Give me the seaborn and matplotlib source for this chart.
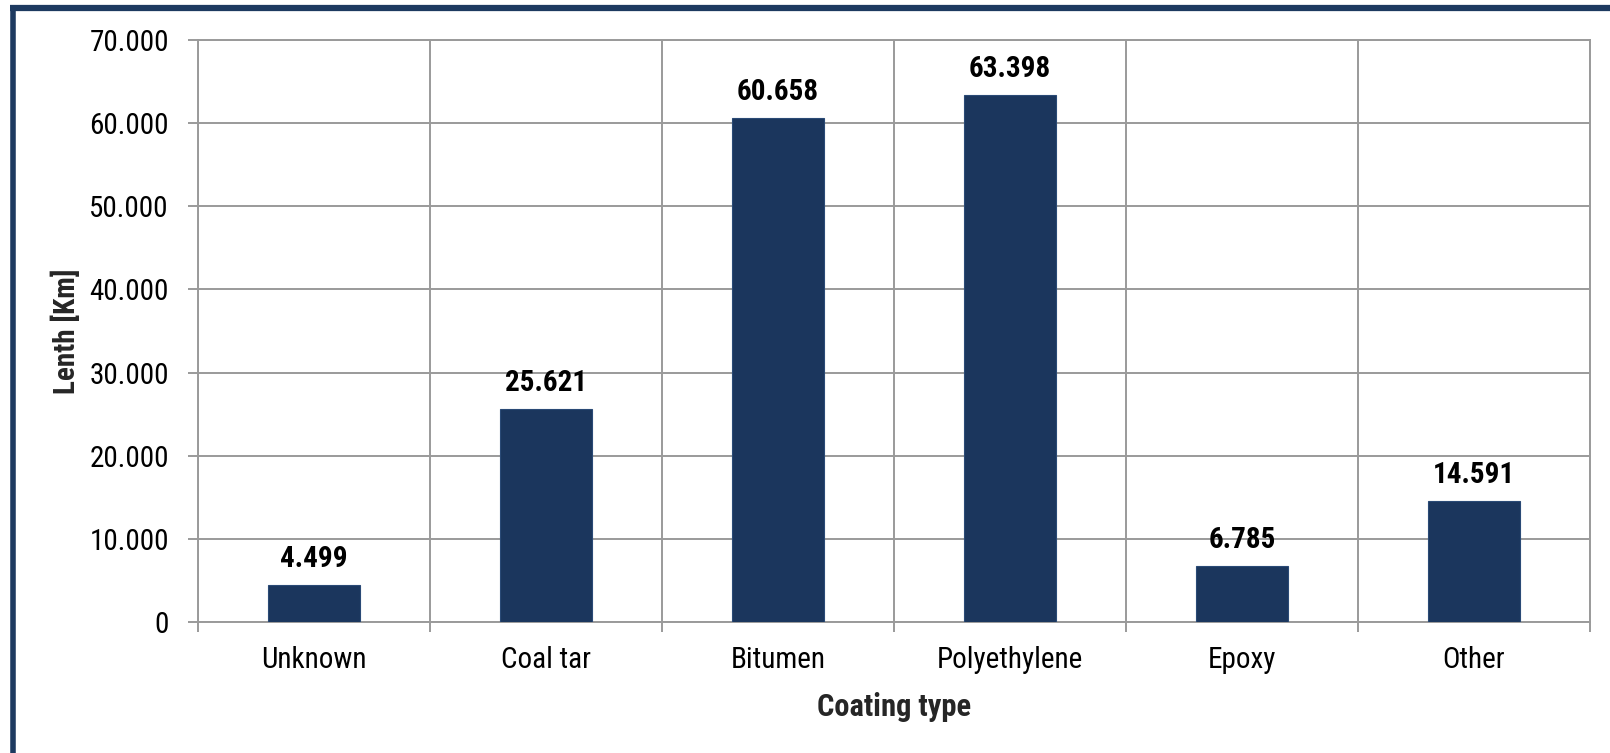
import matplotlib
matplotlib.use("Agg")
import matplotlib.pyplot as plt
from matplotlib.lines import Line2D
from matplotlib.ticker import FixedLocator, FuncFormatter
import seaborn as sns
import pandas as pd

# Pipeline length by coating type (km, dot as thousands separator)
coating_types = ["Unknown", "Coal tar", "Bitumen", "Polyethylene", "Epoxy", "Other"]
lengths = [4499, 25621, 60658, 63398, 6785, 14591]
y_ticks = [0, 10000, 20000, 30000, 40000, 50000, 60000, 70000]

BAR_COLOR = "#1b365d"
FRAME_COLOR = "#1d3a60"
GRID_COLOR = "#9a9a9a"
FS = 21


def dot_thousands(v, _pos=None):
    return f"{int(round(v)):,}".replace(",", ".")


sns.set_theme(style="white")
plt.rcParams["font.family"] = ["Roboto Condensed", "Liberation Sans", "DejaVu Sans"]

fig = plt.figure(figsize=(16.10, 7.53), dpi=100)
ax = fig.add_axes([198 / 1610, 1 - 622 / 753, (1590 - 198) / 1610, (622 - 40) / 753])

df = pd.DataFrame({"Coating type": coating_types, "Length": lengths})
sns.barplot(data=df, x="Coating type", y="Length", color=BAR_COLOR,
            width=0.4, saturation=1, ax=ax, zorder=3, edgecolor="#2a4a76", linewidth=0.8)

ax.set_xlim(-0.5, len(coating_types) - 0.5)
ax.set_ylim(0, 70000)
ax.yaxis.set_major_locator(FixedLocator(y_ticks))
ax.yaxis.set_major_formatter(FuncFormatter(dot_thousands))

# category separators as minor ticks / vertical grid
ax.xaxis.set_minor_locator(FixedLocator([i - 0.5 for i in range(len(coating_types) + 1)]))
ax.grid(False)
ax.grid(True, axis="y", which="major", color=GRID_COLOR, linewidth=1.4, zorder=0)
ax.grid(True, axis="x", which="minor", color=GRID_COLOR, linewidth=1.4, zorder=0)

ax.tick_params(axis="x", which="major", length=0, pad=17.5, labelsize=FS, labelcolor="black")
ax.tick_params(axis="x", which="minor", length=7, width=1.4, color=GRID_COLOR, direction="out", bottom=True)
ax.tick_params(axis="y", which="major", length=7, width=1.4, color=GRID_COLOR, direction="out",
               left=True, pad=14, labelsize=FS, labelcolor="black")

for side in ["left", "bottom", "top", "right"]:
    ax.spines[side].set_visible(True)
    ax.spines[side].set_color(GRID_COLOR)
    ax.spines[side].set_linewidth(1.4)

ax.set_xlabel("Coating type", fontsize=22, fontweight="bold", labelpad=13)
ax.set_ylabel("Lenth [Km]", fontsize=FS, fontweight="bold", labelpad=6)

# value labels above each bar
for i, v in enumerate(lengths):
    ax.annotate(dot_thousands(v), xy=(i, v), xytext=(0, 13), textcoords="offset points",
                ha="center", va="baseline", fontsize=FS, fontweight="bold", color="black")

# dark frame along the top and left edges
fig.add_artist(Line2D([10 / 1610, 1.0], [1 - 8 / 753, 1 - 8 / 753], transform=fig.transFigure,
                      color=FRAME_COLOR, linewidth=4.5, solid_capstyle="butt"))
fig.add_artist(Line2D([12.5 / 1610, 12.5 / 1610], [0.0, 1 - 5 / 753], transform=fig.transFigure,
                      color=FRAME_COLOR, linewidth=4.0, solid_capstyle="butt"))

fig.savefig("out.png", dpi=100, facecolor="white")
